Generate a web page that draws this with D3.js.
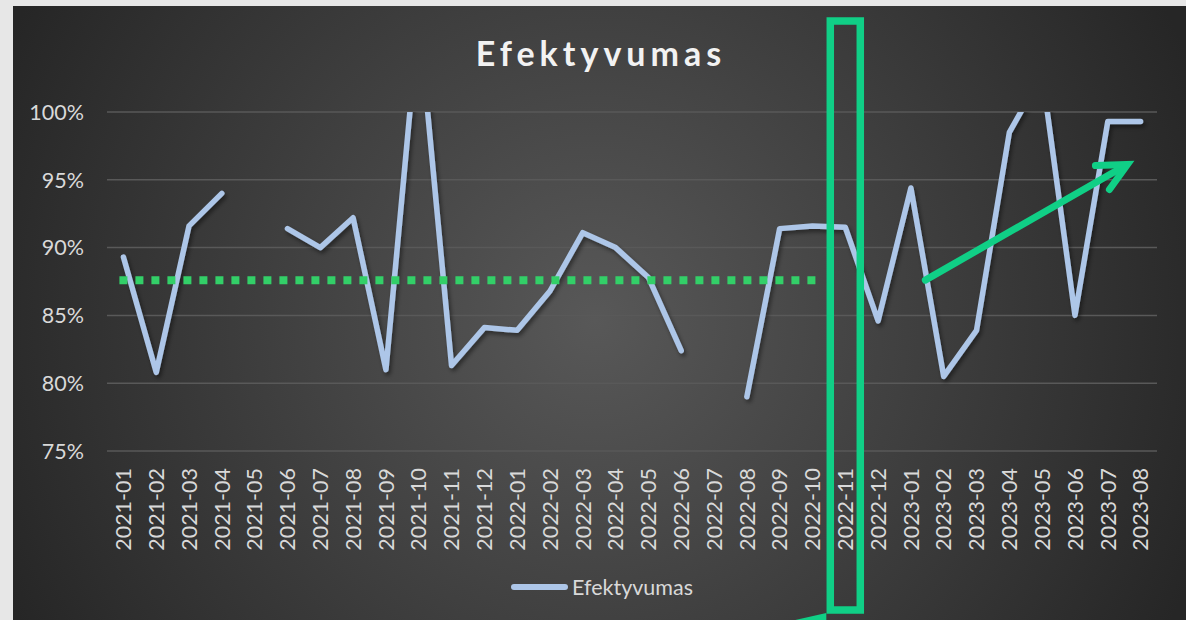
<!DOCTYPE html>
<html>
<head>
<meta charset="utf-8">
<script src="https://cdn.jsdelivr.net/npm/d3@7"></script>
<style>
  body { margin: 0; background: #e7e7e7; }
  svg { display: block; }
  text { font-family: Lato, "Open Sans", sans-serif; }
</style>
</head>
<body>
<div id="chart"></div>
<script>
// Months on the x axis.
const months = [
  "2021-01","2021-02","2021-03","2021-04","2021-05","2021-06","2021-07","2021-08",
  "2021-09","2021-10","2021-11","2021-12","2022-01","2022-02","2022-03","2022-04",
  "2022-05","2022-06","2022-07","2022-08","2022-09","2022-10","2022-11","2022-12",
  "2023-01","2023-02","2023-03","2023-04","2023-05","2023-06","2023-07","2023-08"
];

// Efektyvumas, % (null = no value that month).
const efektyvumas = [
  89.3, 80.8, 91.6, 94.0, null, 91.4, 90.0, 92.2,
  81.0, 107.0, 81.3, 84.1, 83.9, 86.8, 91.1, 90.0,
  87.8, 82.4, null, 79.0, 91.4, 91.6, 91.5, 84.6,
  94.4, 80.5, 83.9, 98.5, 102.8, 85.0, 99.3, 99.3
];

const yTicks = [75, 80, 85, 90, 95, 100];

// Annotations drawn over the chart.
const averageLevel = 87.6;
const averageFrom = "2021-01", averageTo = "2022-10";
const highlightMonth = "2022-11";
const trendArrow = { from: [24.44, 87.6], to: [30.66, 96.2] }; // [month index, %]

const width = 1186;
const height = 620;
const panel = { x: 13, y: 6 };
const plot = { left: 107, right: 1157, top: 112, bottom: 451 };

const svg = d3.select("#chart")
  .append("svg")
    .attr("width", width)
    .attr("height", height);

const defs = svg.append("defs");

const grad = defs.append("radialGradient")
    .attr("id", "bg")
    .attr("gradientUnits", "userSpaceOnUse")
    .attr("cx", 595).attr("cy", 320).attr("r", 650);
grad.append("stop").attr("offset", 0).attr("stop-color", "#585858");
grad.append("stop").attr("offset", 1).attr("stop-color", "#262626");

const shadow = defs.append("filter")
    .attr("id", "shadow")
    .attr("x", "-10%").attr("y", "-10%").attr("width", "120%").attr("height", "120%");
shadow.append("feDropShadow")
    .attr("dx", 2).attr("dy", 3).attr("stdDeviation", 2)
    .attr("flood-color", "#000").attr("flood-opacity", 0.45);

defs.append("clipPath").attr("id", "plotclip")
  .append("rect")
    .attr("x", plot.left - 20).attr("y", plot.top)
    .attr("width", plot.right - plot.left + 40)
    .attr("height", plot.bottom - plot.top + 20);

// Chart panel.
svg.append("rect")
    .attr("x", panel.x).attr("y", panel.y)
    .attr("width", width - panel.x).attr("height", height - panel.y)
    .attr("fill", "url(#bg)");

// Scales.
const x = d3.scalePoint()
    .domain(months)
    .range([plot.left, plot.right])
    .padding(0.5);

const y = d3.scaleLinear()
    .domain([75, 100])
    .range([plot.bottom, plot.top]);

const xi = i => x(months[0]) + i * x.step();

// Title.
svg.append("text")
    .attr("x", 601)
    .attr("y", 66)
    .attr("text-anchor", "middle")
    .attr("fill", "#f2f2f2")
    .attr("font-size", 34)
    .attr("font-weight", 700)
    .attr("letter-spacing", 5)
    .text("Efektyvumas");

// Gridlines and y labels.
const yAxis = svg.append("g");
yAxis.selectAll("line")
  .data(yTicks)
  .join("line")
    .attr("x1", plot.left).attr("x2", plot.right)
    .attr("y1", d => y(d)).attr("y2", d => y(d))
    .attr("stroke", "#595959")
    .attr("stroke-width", 1.5);

yAxis.selectAll("text")
  .data(yTicks)
  .join("text")
    .attr("x", 84)
    .attr("y", d => y(d))
    .attr("dy", "0.36em")
    .attr("text-anchor", "end")
    .attr("fill", "#d9d9d9")
    .attr("font-size", 21.5)
    .text(d => d + "%");

// X labels, rotated.
svg.append("g").selectAll("text")
  .data(months)
  .join("text")
    .attr("transform", d => `translate(${x(d)},${468}) rotate(-90)`)
    .attr("dy", "0.36em")
    .attr("text-anchor", "end")
    .attr("fill", "#d9d9d9")
    .attr("font-size", 21.5)
    .text(d => d);

// The data line.
const line = d3.line()
    .defined(d => d[1] != null)
    .x(d => x(d[0]))
    .y(d => y(d[1]));

svg.append("g")
    .attr("clip-path", "url(#plotclip)")
  .append("path")
    .datum(months.map((m, i) => [m, efektyvumas[i]]))
    .attr("d", line)
    .attr("fill", "none")
    .attr("stroke", "#adc6e8")
    .attr("stroke-width", 5.5)
    .attr("stroke-linejoin", "round")
    .attr("stroke-linecap", "round")
    .attr("filter", "url(#shadow)");

// Average level (dotted).
svg.append("line")
    .attr("x1", x(averageFrom) - 4)
    .attr("x2", x(averageTo) + 4)
    .attr("y1", y(averageLevel)).attr("y2", y(averageLevel))
    .attr("stroke", "#33cf68")
    .attr("stroke-width", 8)
    .attr("stroke-dasharray", "8 8");

// Highlight box around one month.
const green = "#10cf86";
svg.append("rect")
    .attr("x", x(highlightMonth) - 15)
    .attr("y", 21)
    .attr("width", 30)
    .attr("height", 589)
    .attr("fill", "none")
    .attr("stroke", green)
    .attr("stroke-width", 7.5);

// Pointer wedge coming in from below.
svg.append("path")
    .attr("d", `M${x(highlightMonth) - 50},620 L${x(highlightMonth) - 19},613 L${x(highlightMonth) - 19},620 Z`)
    .attr("fill", green);

// Trend arrow.
const ax0 = xi(trendArrow.from[0]), ay0 = y(trendArrow.from[1]);
const ax1 = xi(trendArrow.to[0]), ay1 = y(trendArrow.to[1]);
const arrow = svg.append("g")
    .attr("stroke", green)
    .attr("stroke-width", 7)
    .attr("stroke-linecap", "round")
    .attr("fill", "none");
arrow.append("line")
    .attr("x1", ax0).attr("y1", ay0)
    .attr("x2", ax1 - 4).attr("y2", ay1 + 2);
arrow.append("path")
    .attr("d", `M${ax1 - 34},${ay1 + 2} L${ax1 - 2},${ay1 + 1} L${ax1 - 20},${ay1 + 26}`)
    .attr("stroke-linejoin", "miter");

// Legend.
const legend = svg.append("g");
legend.append("line")
    .attr("x1", 514).attr("x2", 565)
    .attr("y1", 587).attr("y2", 587)
    .attr("stroke", "#adc6e8")
    .attr("stroke-width", 6)
    .attr("stroke-linecap", "round");
legend.append("text")
    .attr("x", 572)
    .attr("y", 595)
    .attr("fill", "#d9d9d9")
    .attr("font-size", 21.5)
    .text("Efektyvumas");
</script>
</body>
</html>
